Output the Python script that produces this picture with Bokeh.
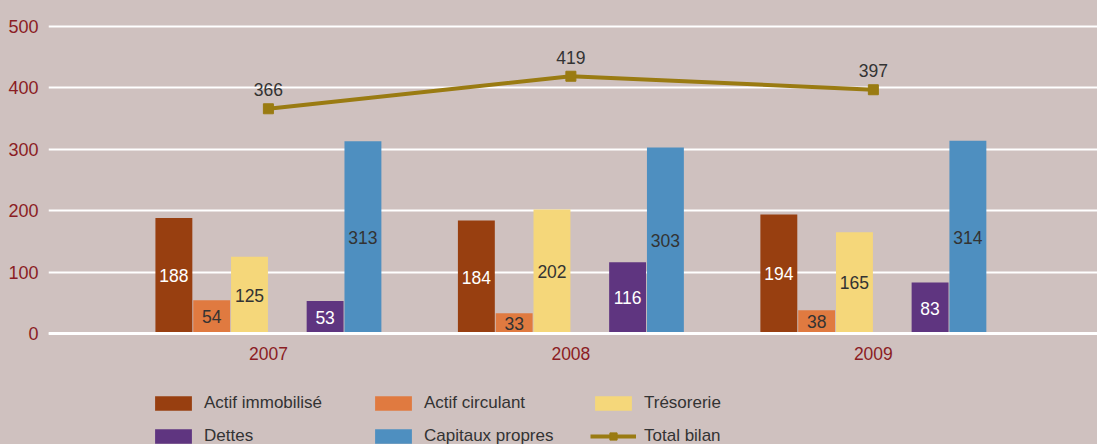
from bokeh.plotting import figure
from bokeh.models import (ColumnDataSource, Range1d, FixedTicker, Legend, LegendItem)
from bokeh.transform import dodge
from bokeh.core.properties import value
from bokeh.embed import file_html
from bokeh.resources import INLINE

# ---- data ----
years = ["2007", "2008", "2009"]
actif_immobilise = [188, 184, 194]
actif_circulant = [54, 33, 38]
tresorerie = [125, 202, 165]
dettes = [53, 116, 83]
capitaux_propres = [313, 303, 314]
total_bilan = [366, 419, 397]
y_ticks = [0, 100, 200, 300, 400, 500]

BG = "#cfc1bf"
AXIS_RED = "#8b1d24"
TXT = "#333333"
FONT = value("Liberation Sans")
FS = "17.5px"

xs = list(range(len(years)))
src = ColumnDataSource(dict(
    x=xs,
    ai=actif_immobilise, ac=actif_circulant, tr=tresorerie, de=dettes, cp=capitaux_propres,
    tb=total_bilan,
    ai_m=[v / 2 for v in actif_immobilise], ac_m=[v / 2 for v in actif_circulant],
    tr_m=[v / 2 for v in tresorerie], de_m=[v / 2 for v in dettes],
    cp_m=[v / 2 for v in capitaux_propres],
    ai_t=[str(v) for v in actif_immobilise], ac_t=[str(v) for v in actif_circulant],
    tr_t=[str(v) for v in tresorerie], de_t=[str(v) for v in dettes],
    cp_t=[str(v) for v in capitaux_propres], tb_t=[str(v) for v in total_bilan],
))

# frame spans to the bottom edge; the x axis sits at y = 0 (fixed_location)
p = figure(width=1097, height=444, output_backend="svg", toolbar_location=None,
           x_range=Range1d(-0.727, 2.741), y_range=Range1d(-180.8, 516.3),
           min_border_left=48, min_border_right=0, min_border_top=16, min_border_bottom=0)
p.background_fill_color = BG
p.border_fill_color = BG
p.outline_line_color = None

W = 0.125
BW = 0.122
series = [
    ("ai", "Actif immobilisé", "#983f10", -2.5, "white"),
    ("ac", "Actif circulant", "#e07a40", -1.5, TXT),
    ("tr", "Trésorerie", "#f5d77a", -0.5, TXT),
    ("de", "Dettes", "#5f3580", 1.5, "white"),
    ("cp", "Capitaux propres", "#4e8fc0", 2.5, TXT),
]
bar_r = {}
for key, name, col, off, tcol in series:
    bar_r[key] = p.vbar(x=dodge("x", off * W, range=p.x_range), top=key, width=BW,
                        source=src, fill_color=col, line_color=None)
for key, name, col, off, tcol in series:
    p.text(x=dodge("x", off * W, range=p.x_range), y=key + "_m", text=key + "_t",
           source=src, text_color=tcol, text_font=FONT, text_font_size=FS,
           text_align="center", text_baseline="middle")

OLIVE = "#9a7b12"
line_r = p.line(x="x", y="tb", source=src, line_color=OLIVE, line_width=4)
sc_r = p.scatter(x="x", y="tb", source=src, marker="square", size=10,
                 fill_color=OLIVE, line_color=OLIVE)
p.text(x="x", y="tb", text="tb_t", source=src, y_offset=-19, text_color=TXT,
       text_font=FONT, text_font_size=FS, text_align="center", text_baseline="middle")

# axes
p.yaxis.ticker = FixedTicker(ticks=y_ticks)
p.yaxis.axis_line_color = None
p.yaxis.major_tick_line_color = None
p.yaxis.minor_tick_line_color = None
p.yaxis.major_label_text_color = AXIS_RED
p.yaxis.major_label_text_font = "Liberation Sans"
p.yaxis.major_label_text_font_size = "18px"
p.yaxis.major_label_standoff = 4

p.xaxis.fixed_location = 0
p.xaxis.ticker = FixedTicker(ticks=xs)
p.xaxis.major_label_overrides = {i: y for i, y in zip(xs, years)}
p.xaxis.axis_line_color = "white"
p.xaxis.axis_line_width = 3
p.xaxis.major_tick_line_color = None
p.xaxis.minor_tick_line_color = None
p.xaxis.major_label_text_color = AXIS_RED
p.xaxis.major_label_text_font = "Liberation Sans"
p.xaxis.major_label_text_font_size = FS
p.xaxis.major_label_standoff = 8

p.xgrid.grid_line_color = None
p.ygrid.ticker = FixedTicker(ticks=y_ticks)
p.ygrid.grid_line_color = "white"
p.ygrid.grid_line_width = 2

items = [
    LegendItem(label="Actif immobilisé", renderers=[bar_r["ai"]]),
    LegendItem(label="Actif circulant", renderers=[bar_r["ac"]]),
    LegendItem(label="Trésorerie", renderers=[bar_r["tr"]]),
    LegendItem(label="Dettes", renderers=[bar_r["de"]]),
    LegendItem(label="Capitaux propres", renderers=[bar_r["cp"]]),
    LegendItem(label="Total bilan", renderers=[line_r, sc_r]),
]
legend = Legend(items=items, ncols=3, orientation="horizontal", location=(102, -2),
                glyph_width=46, glyph_height=18, label_standoff=8, label_width=153,
                label_height=20, spacing=13, padding=0, margin=0,
                label_text_font="Liberation Sans", label_text_font_size="17px",
                label_text_color=TXT, background_fill_alpha=0, border_line_alpha=0)
p.add_layout(legend, "center")

html = file_html(p, INLINE)
html = html.replace("<head>", "<head><style>body{background:%s;}</style>" % BG, 1)
open("out.html", "w").write(html)
